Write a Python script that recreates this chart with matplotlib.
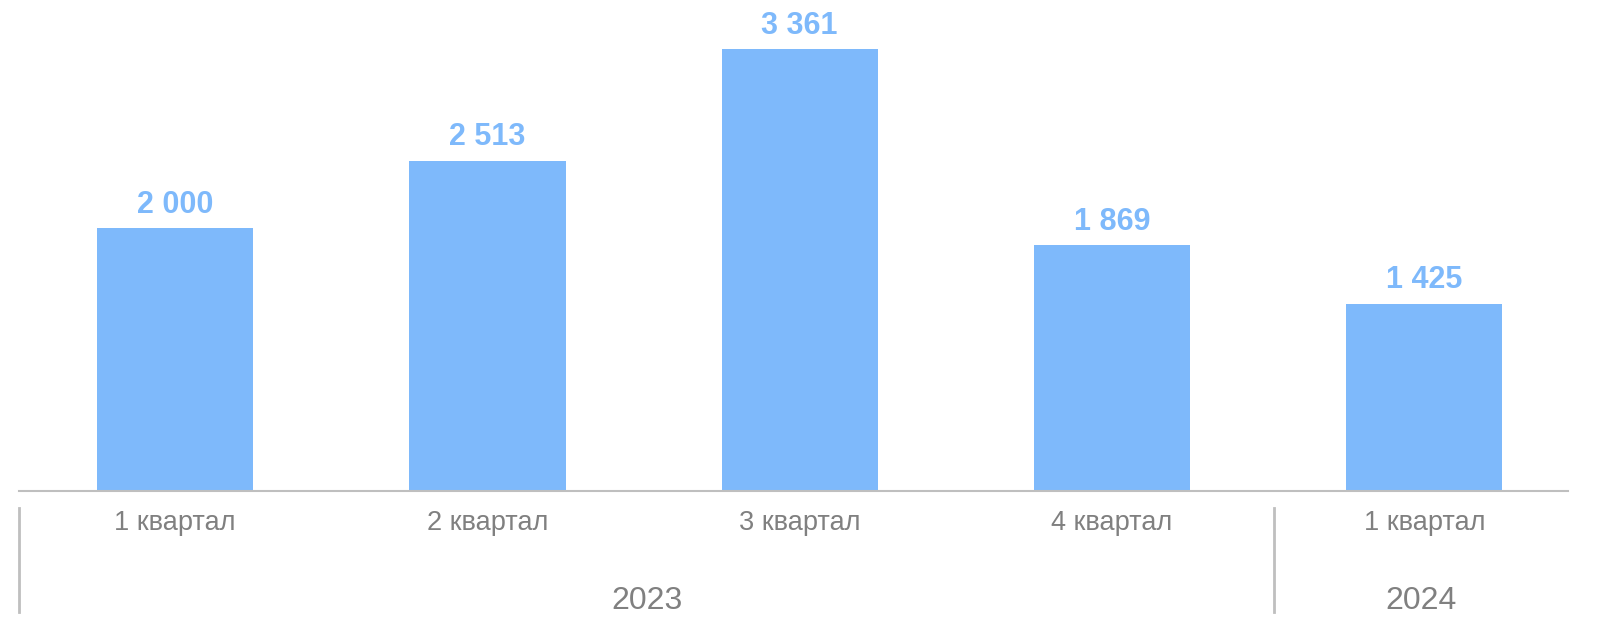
import matplotlib.pyplot as plt

plt.rcParams['font.family'] = ['Liberation Sans', 'DejaVu Sans']

quarters = ['1 квартал', '2 квартал', '3 квартал', '4 квартал', '1 квартал']
values = [2000, 2513, 3361, 1869, 1425]
years = ['2023', '2024']
year_spans = [(-0.5, 3.52), (3.52, 4.46)]

bar_color = '#7eb9fb'
label_color = '#7eb9fb'
grey = '#808080'
line_grey = '#bfbfbf'

fig = plt.figure(figsize=(16.09, 6.29), dpi=100)
ax = fig.add_axes([19 / 1609, 138 / 629, (1568 - 19) / 1609, 491 / 629])

x = list(range(len(values)))
bars = ax.bar(x, values, width=0.5, color=bar_color)

for xi, v in zip(x, values):
    txt = f'{v:,}'.replace(',', ' ')
    ax.annotate(txt, (xi, v), xytext=(0, 11), textcoords='offset points',
                ha='center', va='baseline', fontsize=22, fontweight='bold',
                color=label_color)

ax.set_xlim(-0.5, 4.46)
ax.set_ylim(0, 3734)

for s in ['top', 'right', 'left']:
    ax.spines[s].set_visible(False)
ax.spines['bottom'].set_color(line_grey)
ax.spines['bottom'].set_linewidth(1.5)
ax.set_yticks([])
ax.set_xticks([])

tr = ax.get_xaxis_transform()
for xi, q in zip(x, quarters):
    ax.text(xi, -0.065, q, transform=tr, ha='center', va='center',
            fontsize=19.5, color=grey)

for (a, b), yr in zip(year_spans, years):
    ax.text((a + b) / 2, -0.224, yr, transform=tr, ha='center', va='center',
            fontsize=23, color=grey)

for xs in [-0.5, 3.52]:
    ax.plot([xs, xs], [-0.035, -0.247], transform=tr, color=line_grey,
            lw=2, clip_on=False)

fig.savefig('out.png', dpi=100)
